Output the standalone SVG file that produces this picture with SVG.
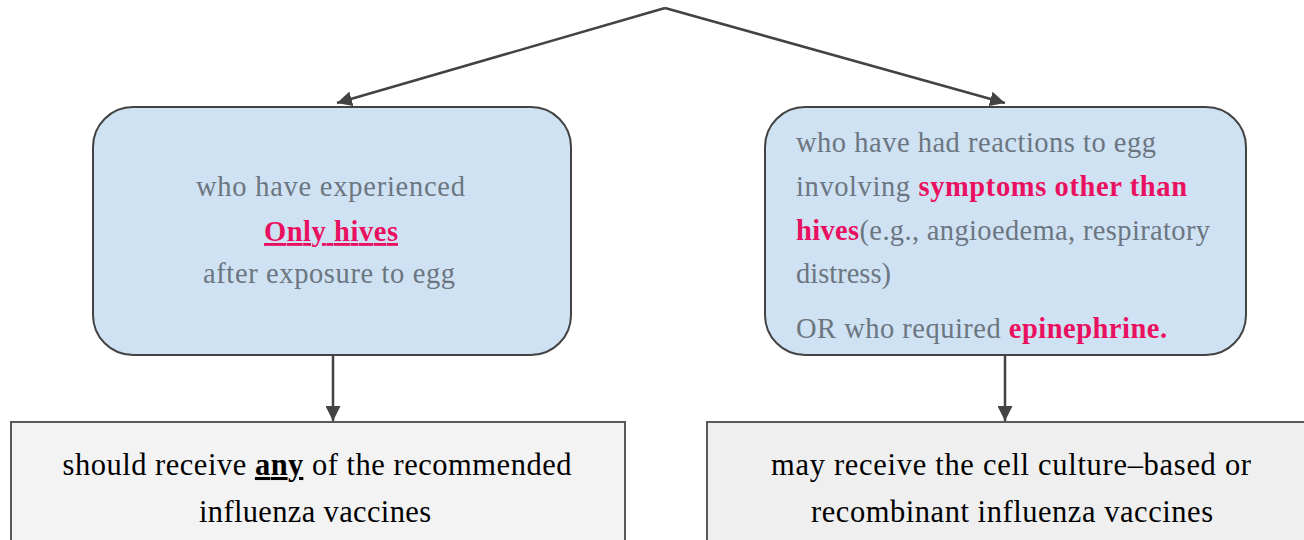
<svg xmlns="http://www.w3.org/2000/svg" width="1304" height="540" viewBox="0 0 1304 540">
<style>
.q{fill:#cfe2f3;stroke:#434343;stroke-width:2}
.r{stroke:#595959;stroke-width:2}
.g{font-family:"Liberation Serif","Times New Roman",serif;font-size:28.5px;fill:#6c7681}
.b{font-family:"Liberation Serif","Times New Roman",serif;font-size:30.5px;fill:#000}
.p{fill:#ea1060;font-weight:bold}
.u{text-decoration:underline;text-decoration-skip-ink:none}
.c{fill:none;stroke:#434343;stroke-width:2.5}
</style>
<defs>
<marker id="ah" viewBox="0 0 12 12" refX="12" refY="6" markerWidth="15" markerHeight="15" markerUnits="userSpaceOnUse" orient="auto">
<path d="M0,0 L12,6 L0,12 z" fill="#434343"/>
</marker>
</defs>
<g id="connectors">
<path class="c" d="M665,8 L337,103" marker-end="url(#ah)"/>
<path class="c" d="M665,8 L1005,103" marker-end="url(#ah)"/>
<path class="c" d="M333,355 L333,421" marker-end="url(#ah)"/>
<path class="c" d="M1005,355 L1005,421" marker-end="url(#ah)"/>
</g>
<g id="node-hives">
<rect class="q" x="93" y="107" width="478" height="248" rx="40"/>
<text class="g" text-anchor="middle" x="330.5" y="196" textLength="269" lengthAdjust="spacing">who have experienced</text>
<text class="g p u" text-anchor="middle" x="331" y="241" textLength="134" lengthAdjust="spacing">Only hives</text>
<text class="g" text-anchor="middle" x="329" y="283" textLength="252" lengthAdjust="spacing">after exposure to egg</text>
</g>
<g id="node-other">
<rect class="q" x="765" y="107" width="481" height="248" rx="40"/>
<text class="g" x="796" y="152" textLength="360" lengthAdjust="spacing">who have had reactions to egg</text>
<text class="g" x="796" y="196" textLength="391" lengthAdjust="spacing">involving <tspan class="p">symptoms other than</tspan></text>
<text class="g" x="796" y="240" textLength="414" lengthAdjust="spacing"><tspan class="p">hives</tspan>(e.g., angioedema, respiratory</text>
<text class="g" x="796" y="283">distress)</text>
<text class="g" x="796" y="338" textLength="371" lengthAdjust="spacing">OR who required <tspan class="p">epinephrine.</tspan></text>
</g>
<g id="node-any">
<rect class="r" x="11" y="422" width="614" height="130" fill="#f3f3f3"/>
<text class="b" text-anchor="middle" x="317" y="475" textLength="509" lengthAdjust="spacing">should receive  <tspan font-weight="bold" class="u">any</tspan> of the recommended</text>
<text class="b" text-anchor="middle" x="315" y="522" textLength="232" lengthAdjust="spacing">influenza  vaccines</text>
</g>
<g id="node-cell">
<rect class="r" x="707" y="422" width="610" height="130" fill="#efefef"/>
<text class="b" text-anchor="middle" x="1011" y="475" textLength="480" lengthAdjust="spacing">may receive the cell culture–based or</text>
<text class="b" text-anchor="middle" x="1012" y="522" textLength="402" lengthAdjust="spacing">recombinant influenza vaccines</text>
</g>
</svg>
